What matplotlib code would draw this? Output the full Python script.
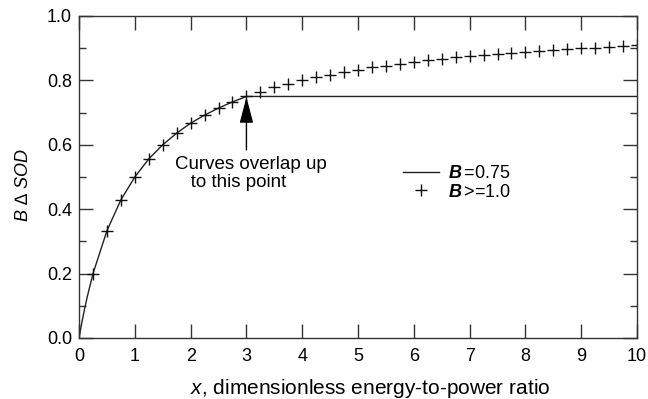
import matplotlib
matplotlib.use("Agg")
import matplotlib.pyplot as plt
from matplotlib.ticker import MultipleLocator

plt.rcParams['font.family'] = ['Liberation Sans', 'DejaVu Sans']
plt.rcParams['mathtext.fontset'] = 'custom'
plt.rcParams['mathtext.rm'] = 'Liberation Sans'
plt.rcParams['mathtext.it'] = 'Liberation Sans:italic'
plt.rcParams['mathtext.bf'] = 'Liberation Sans:bold'
plt.rcParams['mathtext.bfit'] = 'Liberation Sans:italic:bold'

# B = 0.75 curve
x_line = [0, 0.05, 0.1, 0.15, 0.25, 0.5, 0.75, 1.0, 1.25, 1.5, 1.75, 2.0,
          2.25, 2.5, 2.75, 3.0, 10.0]
y_line = [0, 0.048, 0.091, 0.130, 0.200, 0.333, 0.429, 0.500, 0.556, 0.600,
          0.636, 0.667, 0.692, 0.714, 0.733, 0.750, 0.750]

# B >= 1.0 markers
x_plus = [0.25, 0.5, 0.75, 1.0, 1.25, 1.5, 1.75, 2.0, 2.25, 2.5, 2.75, 3.0,
          3.25, 3.5, 3.75, 4.0, 4.25, 4.5, 4.75, 5.0, 5.25, 5.5, 5.75, 6.0,
          6.25, 6.5, 6.75, 7.0, 7.25, 7.5, 7.75, 8.0, 8.25, 8.5, 8.75, 9.0,
          9.25, 9.5, 9.75, 10.0]
y_plus = [0.200, 0.333, 0.429, 0.500, 0.556, 0.600, 0.636, 0.667, 0.692,
          0.714, 0.733, 0.750, 0.765, 0.778, 0.789, 0.800, 0.810, 0.818,
          0.826, 0.833, 0.840, 0.846, 0.852, 0.857, 0.862, 0.867, 0.871,
          0.875, 0.879, 0.882, 0.886, 0.889, 0.892, 0.895, 0.897, 0.900,
          0.902, 0.905, 0.907, 0.909]

fig, ax = plt.subplots(figsize=(6.48, 3.99), dpi=100)
fig.subplots_adjust(left=0.122, right=0.983, bottom=0.153, top=0.96)

ax.plot(x_line, y_line, color='#222222', lw=1.0, label=r'$\mathbfit{B}\,$=0.75')
ax.plot(x_plus, y_plus, ls='none', marker='+', ms=8, mew=1.0, color='#111111',
        label=r'$\mathbfit{B}\,$>=1.0')

ax.set_xlim(0, 10)
ax.set_ylim(0, 1.0)
ax.xaxis.set_major_locator(MultipleLocator(1))
ax.yaxis.set_major_locator(MultipleLocator(0.2))
ax.yaxis.set_minor_locator(MultipleLocator(0.1))
ax.yaxis.set_major_formatter(plt.FormatStrFormatter('%.1f'))
ax.tick_params(which='both', direction='in', top=True, right=True,
               labelsize=13, color='#333333', width=1.0)
ax.tick_params(which='major', length=10, pad=5)
ax.tick_params(axis='x', which='major', pad=7)
ax.tick_params(which='minor', length=5)
for s in ax.spines.values():
    s.set_color('#333333')
    s.set_linewidth(1.0)

ax.set_xlabel(r'$x$, dimensionless energy-to-power ratio', fontsize=15)
ax.xaxis.set_label_coords(0.522, -0.122)
ax.set_ylabel('B \u2206 SOD', fontsize=13, fontstyle='italic')
ax.yaxis.set_label_coords(-0.085, 0.475)

ax.annotate('', xy=(3, 0.748), xytext=(3, 0.584),
            arrowprops=dict(arrowstyle='-|>,head_length=1.6,head_width=0.42',
                            color='black', lw=1.0, shrinkA=0, shrinkB=0))
ax.text(1.72, 0.565, 'Curves overlap up\n   to this point', fontsize=13.5,
        ha='left', va='top', linespacing=1.1)

ax.legend(loc='center left', bbox_to_anchor=(0.58, 0.482), frameon=False,
          fontsize=13, handlelength=2.0, handletextpad=0.5, labelspacing=0.1,
          borderpad=0, borderaxespad=0)

fig.savefig('out.png', dpi=100)
